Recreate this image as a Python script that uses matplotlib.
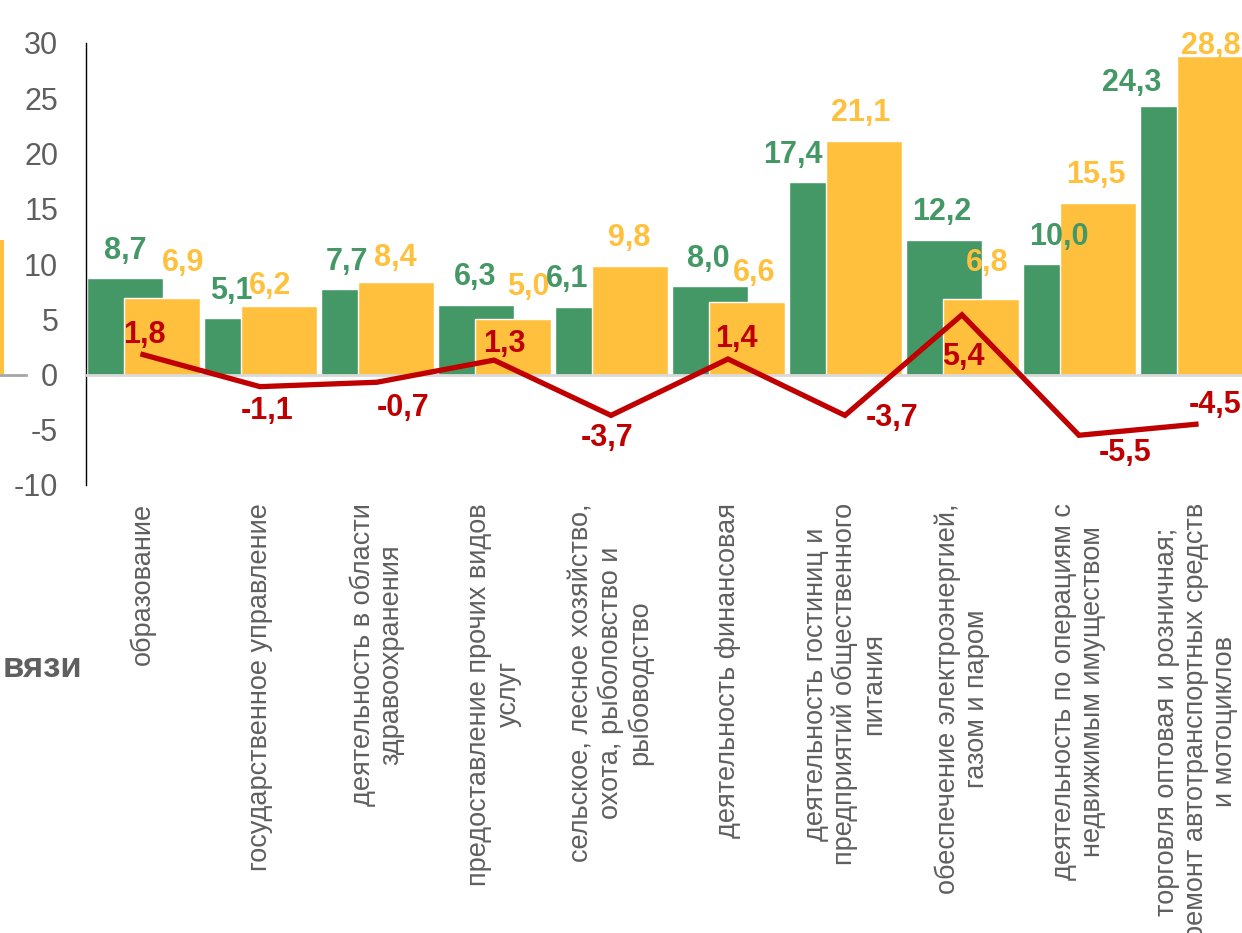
import matplotlib
matplotlib.use("Agg")
import matplotlib.pyplot as plt
from matplotlib.patches import Rectangle
from matplotlib.lines import Line2D

plt.rcParams['font.family'] = ['Liberation Sans', 'DejaVu Sans']

categories = [
    "образование",
    "государственное управление",
    "деятельность в области\nздравоохранения",
    "предоставление прочих видов\nуслуг",
    "сельское, лесное хозяйство,\nохота, рыболовство и\nрыбоводство",
    "деятельность финансовая",
    "деятельность гостиниц и\nпредприятий общественного\nпитания",
    "обеспечение электроэнергией,\nгазом и паром",
    "деятельность по операциям с\nнедвижимым имуществом",
    "торговля оптовая и розничная;\nремонт автотранспортных средств\nи мотоциклов",
]
green_vals = [8.7, 5.1, 7.7, 6.3, 6.1, 8.0, 17.4, 12.2, 10.0, 24.3]
yellow_vals = [6.9, 6.2, 8.4, 5.0, 9.8, 6.6, 21.1, 6.8, 15.5, 28.8]
red_vals = [1.8, -1.1, -0.7, 1.3, -3.7, 1.4, -3.7, 5.4, -5.5, -4.5]
yticks = [-10, -5, 0, 5, 10, 15, 20, 25, 30]

GREEN = "#449866"
YELLOW = "#FFC13D"
RED = "#C00000"
GRAY = "#5F5F5F"

# label offsets in pixels (dx, dy up) relative to bar top / line point
green_off = [(0, 27), (-10, 27), (-12, 27), (-1, 28), (-26, 28),
             (-2, 27), (-34, 27), (-2, 28), (-2, 27), (-46, 23)]
yellow_off = [(21, 35), (-9, 20), (-1, 24), (15, 32), (-1, 28),
              (7, 29), (-3, 28), (6, 36), (-2, 28), (-4, 10)]
red_off = [(1, 20), (7, -24), (26, -26), (10, 16), (-4, -23),
           (8, 20), (47, -3), (1, -42), (46, -18), (19, 19)]

fig = plt.figure(figsize=(12.42, 9.33), dpi=100)
ax = fig.add_axes([86 / 1242, 448 / 933, 1168 / 1242, 442 / 933])

x = list(range(len(categories)))
bw = 0.65
gx = [i - 0.155 for i in x]
yx = [i + 0.163 for i in x]
ax.bar(gx, green_vals, width=bw, color=GREEN, edgecolor="white", linewidth=1, zorder=2)
ax.bar(yx, yellow_vals, width=bw, color=YELLOW, edgecolor="white", linewidth=1, zorder=3)
ax.axhline(0, color="#D9D9D9", lw=2, zorder=3.5)
ax.plot(x, red_vals, color=RED, lw=3.8, zorder=4, solid_joinstyle="miter")

def fmt(v):
    return f"{v:.1f}".replace(".", ",")

for i in x:
    ax.annotate(fmt(green_vals[i]), (gx[i], green_vals[i]), xytext=green_off[i],
                textcoords="offset pixels", ha="center", va="center",
                fontsize=22, fontweight="bold", color=GREEN, zorder=6)
    ax.annotate(fmt(yellow_vals[i]), (yx[i], yellow_vals[i]), xytext=yellow_off[i],
                textcoords="offset pixels", ha="center", va="center",
                fontsize=22, fontweight="bold", color=YELLOW, zorder=6)
    ax.annotate(fmt(red_vals[i]), (i, red_vals[i]), xytext=red_off[i],
                textcoords="offset pixels", ha="center", va="center",
                fontsize=22, fontweight="bold", color=RED, zorder=6)

ax.set_xlim(-0.487, 9.496)
ax.set_ylim(-10, 30)
ax.set_yticks(yticks)
ax.set_yticklabels([str(t) for t in yticks], fontsize=22, color=GRAY)
ax.tick_params(axis="y", length=0, pad=20)
ax.set_xticks(x)
ax.set_xticklabels(categories, rotation=90, ha="center", va="top",
                   multialignment="center", fontsize=19.5, color=GRAY,
                   linespacing=1.15)
ax.tick_params(axis="x", length=0, pad=13)
for s in ["top", "right", "bottom"]:
    ax.spines[s].set_visible(False)
ax.spines["left"].set_color("black")
ax.spines["left"].set_linewidth(1)

# fragments of the neighbouring chart cut off at the left edge
fig.add_artist(Rectangle((0, 559 / 933), 4 / 1242, 134 / 933,
                         transform=fig.transFigure, color=YELLOW, lw=0))
fig.add_artist(Line2D([0, 26 / 1242], [558 / 933, 558 / 933],
                      transform=fig.transFigure, color="#A6A6A6", lw=2))
fig.text(82 / 1242, 256 / 933, "вязи", ha="right", va="baseline",
         fontsize=25, fontweight="bold", color=GRAY)

fig.savefig("out.png", dpi=100)
